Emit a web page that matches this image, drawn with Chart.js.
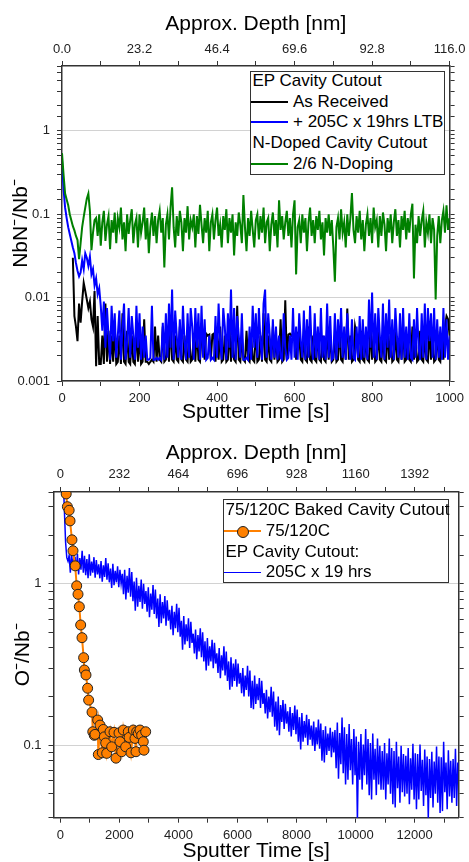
<!DOCTYPE html>
<html>
<head>
<meta charset="utf-8">
<script src="https://cdn.jsdelivr.net/npm/chart.js@4.4.1/dist/chart.umd.min.js"></script>
<style>
  body { margin: 0; background: #fff; font-family: "Liberation Sans", Arial, sans-serif; }
  #wrap { position: relative; width: 469px; height: 862px; overflow: hidden; }
  .panel { position: absolute; left: 0; width: 469px; height: 431px; }
  .legend { position: absolute; background: #fff; border: 1.5px solid #333; box-sizing: border-box; font-size: 17px; color: #000; }
  .row { position: absolute; left: 0; height: 20px; line-height: 20px; white-space: nowrap; }
  .swatch { position: absolute; top: 9px; width: 37px; height: 2px; }
  .lbl { position: absolute; left: 42px; top: 0; }
  .dot { position: absolute; left: 13px; top: -4px; width: 10px; height: 10px; border-radius: 50%; border: 1px solid #222; background: #ff8000; }
</style>
</head>
<body>
<div id="wrap">
  <div class="panel" style="top:0"><canvas id="nbnChart" width="469" height="431"></canvas></div>
  <div class="panel" style="top:431px"><canvas id="oxChart" width="469" height="431"></canvas></div>

  <div class="legend" style="left:250px; top:70.7px; width:194.5px; height:104px;">
    <div class="row" style="top:-0.5px; left:1.5px;">EP Cavity Cutout</div>
    <div class="row" style="top:20px; width:190px;"><span class="swatch" style="background:#000"></span><span class="lbl">As Received</span></div>
    <div class="row" style="top:40.3px; width:190px;"><span class="swatch" style="background:#0000ff"></span><span class="lbl">+ 205C x 19hrs LTB</span></div>
    <div class="row" style="top:61px; left:1.5px;">N-Doped Cavity Cutout</div>
    <div class="row" style="top:82px; width:190px;"><span class="swatch" style="background:#008000"></span><span class="lbl">2/6 N-Doping</span></div>
  </div>

  <div class="legend" style="left:222.7px; top:499px; width:226.6px; height:84.3px;">
    <div class="row" style="top:0.2px; left:1.8px;">75/120C Baked Cavity Cutout</div>
    <div class="row" style="top:20.5px; width:220px;"><span class="swatch" style="left:0.8px; background:#ff8000"><span class="dot"></span></span><span class="lbl">75/120C</span></div>
    <div class="row" style="top:42.2px; left:1.8px;">EP Cavity Cutout:</div>
    <div class="row" style="top:62.2px; width:220px;"><span class="swatch" style="left:0.8px; height:1px; top:9.5px; background:#0000ff"></span><span class="lbl">205C x 19 hrs</span></div>
  </div>
</div>

<script>
// ---- top panel: NbN-/Nb- vs sputter time (sampled every 4 s) ----
const nbnStep = 4;

const greenStart = 0;
const greenValues = [
  0.54,0.3,0.177,0.15,0.128,0.1,0.085,0.072,0.064,0.055,0.049,0.029,0.045,0.07,0.093,0.12,0.154,0.177,0.11,0.037,0.06,0.085,
  0.09,0.055,0.1,0.042,0.08,0.11,0.048,0.075,0.095,0.038,
  0.085,0.06,0.105,0.045,0.09,0.07,0.12,0.05,0.08,0.036,
  0.1,0.058,0.085,0.115,0.045,0.075,0.09,0.04,0.1,0.06,
  0.08,0.12,0.05,0.09,0.034,0.07,0.105,0.055,0.095,0.045,
  0.085,0.11,0.06,0.09,0.023,0.075,0.1,0.05,0.12,0.21,
  0.07,0.04,0.095,0.055,0.11,0.08,0.036,0.09,0.06,0.125,
  0.05,0.085,0.07,0.1,0.04,0.095,0.058,0.13,0.075,0.045,
  0.09,0.06,0.11,0.036,0.08,0.1,0.05,0.085,0.12,0.055,
  0.075,0.04,0.095,0.065,0.115,0.045,0.09,0.06,0.1,0.032,
  0.08,0.055,0.105,0.075,0.045,0.17,0.07,0.036,0.09,0.055,
  0.11,0.065,0.04,0.085,0.1,0.05,0.095,0.06,0.12,0.045,
  0.08,0.09,0.036,0.075,0.105,0.055,0.085,0.04,0.147,0.065,
  0.095,0.05,0.08,0.11,0.055,0.09,0.04,0.1,0.147,0.019,
  0.07,0.085,0.045,0.1,0.06,0.09,0.036,0.08,0.12,0.055,
  0.085,0.045,0.095,0.065,0.11,0.05,0.08,0.032,0.09,0.06,
  0.1,0.055,0.085,0.04,0.0155,0.07,0.09,0.05,0.115,0.06,
  0.08,0.04,0.1,0.055,0.09,0.18,0.065,0.045,0.095,0.06,
  0.11,0.05,0.085,0.036,0.075,0.1,0.055,0.09,0.045,0.12,
  0.07,0.085,0.04,0.095,0.055,0.105,0.075,0.036,0.09,0.06,
  0.1,0.045,0.08,0.115,0.055,0.085,0.04,0.095,0.065,0.11,
  0.05,0.09,0.06,0.1,0.134,0.017,0.075,0.045,0.095,0.055,
  0.085,0.11,0.04,0.08,0.06,0.1,0.045,0.09,0.065,0.0095,
  0.055,0.095,0.045,0.085,0.11,0.06,0.128,0.065,0.09
];

const blueStart = 0;
const blueValues = [
  0.45,0.2,0.12,0.09,0.07,0.058,0.048,0.04,0.034,0.026,0.021,0.018,0.02,0.028,0.022,0.034,0.03,0.024,0.031,0.019,0.022,0.014,0.017,0.011,0.013,0.008,
  0.004,0.009,0.0025,0.0075,0.0035,0.0018,0.008,0.003,0.0065,0.0019,
  0.0035,0.007,0.0018,0.0045,0.0085,0.0018,0.003,0.0075,0.0019,0.006,
  0.0035,0.0018,0.008,0.0025,0.0065,0.0018,0.0045,0.0019,0.0035,0.0018,
  0.0018,0.0019,0.008,0.0018,0.0018,0.0019,0.0018,0.0019,0.0018,0.005,
  0.0018,0.0065,0.0019,0.0085,0.0025,0.0125,0.0018,0.007,0.0035,0.0019,
  0.0055,0.0018,0.008,0.003,0.0018,0.0065,0.0019,0.0075,0.0045,0.0018,
  0.0075,0.0025,0.0065,0.0018,0.008,0.0019,0.0055,0.0018,0.0019,0.0035,
  0.0018,0.0019,0.0018,0.006,0.0019,0.0085,0.003,0.0018,0.0075,0.0045,
  0.0018,0.0065,0.0025,0.0125,0.0019,0.0075,0.0018,0.006,0.0035,0.0019,
  0.0065,0.0018,0.0018,0.0019,0.0018,0.0045,0.0018,0.008,0.0025,0.0065,
  0.0019,0.0075,0.003,0.0018,0.0085,0.0125,0.0019,0.0065,0.0035,0.0018,
  0.0055,0.0019,0.0045,0.0018,0.0035,0.0019,0.0018,0.0065,0.0025,0.0018,
  0.0019,0.0035,0.0018,0.0075,0.0019,0.0045,0.0018,0.0065,0.003,0.0019,
  0.007,0.0018,0.0055,0.0019,0.008,0.0025,0.0018,0.0065,0.0019,0.0045,
  0.0018,0.0075,0.0019,0.0035,0.0018,0.0085,0.0019,0.006,0.0018,0.0019,
  0.0065,0.0018,0.0055,0.0025,0.0075,0.0019,0.0045,0.0018,0.0065,0.003,
  0.0018,0.0055,0.0019,0.0018,0.0045,0.0019,0.006,0.0018,0.0055,0.0019,
  0.0045,0.0018,0.0095,0.0025,0.0115,0.0019,0.0065,0.0018,0.0075,0.0035,
  0.0019,0.0085,0.0018,0.0065,0.0025,0.0095,0.0019,0.0055,0.0018,0.0075,
  0.0035,0.0019,0.0065,0.0018,0.0075,0.0019,0.0045,0.0018,0.0065,0.0019,
  0.0018,0.0055,0.0019,0.0075,0.0025,0.0018,0.0065,0.0019,0.0085,0.0018,
  0.0075,0.003,0.0065,0.0019,0.0075,0.0018,0.0055,0.0019,0.0045,0.0018,
  0.0075,0.0019,0.0055,0.0018,0.0035
];

const blackStart = 28;
const blackValues = [
  0.03,0.006,0.0045,0.003,0.0085,0.005,0.009,0.015,0.012,0.0095,0.0075,0.009,0.0055,0.0045,0.012,0.0015,0.006,0.0016,
  0.0016,0.0035,0.0016,0.0085,0.0017,0.004,0.0016,0.0035,0.0017,0.0045,
  0.0016,0.0017,0.0035,0.0016,0.0065,0.0017,0.0016,0.004,0.0017,0.0016,
  0.0035,0.0017,0.0016,0.0045,0.0017,0.0035,0.0016,0.0017,0.0055,0.0017,
  0.0017,0.0016,0.0017,0.0018,0.0017,0.0045,0.0017,0.0035,0.0018,0.0017,
  0.0045,0.0017,0.0018,0.0035,0.0017,0.0055,0.0018,0.0017,0.0035,0.0018,
  0.0017,0.0045,0.0018,0.0017,0.0035,0.0018,0.0017,0.004,0.0017,0.0018,
  0.0035,0.0017,0.0045,0.0018,0.0017,0.0035,0.0037,0.0018,0.0037,0.0035,
  0.0036,0.0018,0.0036,0.0037,0.0017,0.0035,0.0018,0.0045,0.0017,0.0018,
  0.0035,0.0017,0.0018,0.0045,0.0017,0.0035,0.0018,0.0017,0.008,0.0018,
  0.0017,0.0035,0.0018,0.0017,0.004,0.0018,0.0017,0.0035,0.0018,0.0017,
  0.0045,0.0017,0.0018,0.0035,0.0017,0.0065,0.0018,0.0017,0.0035,0.0018,
  0.0017,0.0045,0.0018,0.0035,0.0017,0.0018,0.0055,0.0017,0.0018,0.0093,
  0.0018,0.0036,0.0037,0.0035,0.0037,0.0036,0.0018,0.0037,0.0035,0.0018,
  0.0017,0.0035,0.0018,0.0017,0.0045,0.0018,0.0017,0.0035,0.0018,0.0017,
  0.004,0.0018,0.0017,0.0035,0.0018,0.0017,0.0045,0.0018,0.0035,0.0017,
  0.0018,0.0035,0.0017,0.0018,0.0045,0.0018,0.0017,0.0035,0.0018,0.0074,
  0.0018,0.0035,0.0017,0.0018,0.0045,0.0035,0.0018,0.0017,0.004,0.0018,
  0.0017,0.0035,0.0018,0.0017,0.0045,0.0018,0.0035,0.0017,0.0018,0.004,
  0.0018,0.0017,0.0035,0.0018,0.0017,0.0045,0.0018,0.0035,0.0017,0.0018,
  0.004,0.0018,0.0017,0.0035,0.0018,0.0045,0.0017,0.0018,0.0035,0.0018,
  0.0017,0.0045,0.0018,0.0035,0.0017,0.0018,0.004,0.0018,0.0017,0.0035,
  0.0018,0.0017,0.0045,0.0018,0.0035,0.0017,0.0018,0.004,0.0018,0.0017,
  0.0035,0.0018,0.0045,0.006,0.0055,0.0035
];

// ---- bottom panel: O-/Nb- vs sputter time ----
const orangeTime = [200,240,300,330,395,430,505,555,600,645,690,735,790,815,870,925,960,1075,1100,1150,1175,1266,1287,1344,1422,1456,1490,1537,1571,1683,1740,1818,1886,1988,2021,2079,2133,2214,2302,2330,2394,2472,2529,2563,2587,2641,2699,2756,2810,2834,2891];
const orangeValues = [3.6,3.0,2.85,2.45,1.87,1.6,1.29,0.97,0.86,0.72,0.555,0.463,0.348,0.292,0.272,0.225,0.19,0.16,0.121,0.115,0.1165,0.143,0.0874,0.133,0.0896,0.125,0.1125,0.103,0.0889,0.121,0.0976,0.12,0.083,0.119,0.105,0.091,0.124,0.0976,0.121,0.1116,0.0896,0.124,0.11,0.091,0.121,0.118,0.124,0.115,0.105,0.093,0.121];

// EP cutout after 205C x 19 hrs, sampled every 40 s from t = 100 s
const epStart = 100;
const epStep = 40;
const epValues = [
  4.5,2.8,1.8,1.45,1.38,1.5,1.17,1.56,1.25,1.47,
  1.46,1.2,1.53,1.14,1.44,1.22,1.6,1.17,1.49,1.13,
  1.42,1.08,1.52,1.12,1.37,1.17,1.46,1.09,1.4,1.14,
  1.32,1.08,1.38,1.03,1.3,1.1,1.44,1.06,1.34,1.02,
  1.24,0.94,1.33,0.98,1.2,1.02,1.28,0.95,1.22,1.0,
  1.15,0.86,1.22,0.8,1.12,0.88,1.25,0.83,1.18,0.78,
  1.03,0.68,1.09,0.72,0.97,0.77,1.06,0.7,1.0,0.75,
  0.9,0.67,0.95,0.62,0.87,0.69,0.98,0.65,0.92,0.61,
  0.81,0.54,0.86,0.57,0.77,0.61,0.84,0.55,0.79,0.59,
  0.69,0.52,0.73,0.48,0.67,0.53,0.75,0.5,0.71,0.47,
  0.59,0.39,0.63,0.42,0.56,0.44,0.61,0.4,0.58,0.43,
  0.49,0.37,0.52,0.34,0.48,0.38,0.53,0.35,0.5,0.33,
  0.44,0.29,0.46,0.31,0.41,0.33,0.45,0.3,0.43,0.32,
  0.37,0.28,0.4,0.26,0.36,0.29,0.41,0.27,0.38,0.25,
  0.33,0.22,0.35,0.23,0.32,0.25,0.34,0.23,0.32,0.24,
  0.28,0.21,0.3,0.2,0.27,0.22,0.31,0.2,0.29,0.17,
  0.25,0.167,0.27,0.18,0.24,0.19,0.26,0.17,0.25,0.18,
  0.21,0.157,0.22,0.146,0.2,0.16,0.23,0.15,0.215,0.13,
  0.186,0.123,0.2,0.115,0.177,0.139,0.19,0.126,0.18,0.136,
  0.162,0.121,0.172,0.113,0.158,0.124,0.176,0.117,0.166,0.105,
  0.149,0.094,0.158,0.105,0.141,0.111,0.154,0.1,0.145,0.108,
  0.132,0.099,0.14,0.092,0.129,0.101,0.144,0.095,0.136,0.08,
  0.124,0.078,0.131,0.087,0.118,0.092,0.128,0.084,0.121,0.09,
  0.124,0.072,0.138,0.062,0.119,0.076,0.148,0.067,0.129,0.057,
  0.117,0.061,0.135,0.07,0.109,0.057,0.126,0.065,0.113,0.034,
  0.105,0.061,0.117,0.053,0.101,0.065,0.126,0.057,0.109,0.049,
  0.103,0.046,0.118,0.061,0.095,0.049,0.11,0.057,0.099,0.053,
  0.092,0.053,0.103,0.046,0.089,0.057,0.11,0.05,0.096,0.043,
  0.092,0.041,0.105,0.054,0.085,0.044,0.099,0.051,0.088,0.048,
  0.086,0.05,0.096,0.043,0.083,0.053,0.102,0.046,0.089,0.04,
  0.088,0.046,0.101,0.052,0.081,0.042,0.094,0.049,0.085,0.035,
  0.082,0.047,0.091,0.041,0.079,0.05,0.098,0.044,0.085,0.038,
  0.084,0.039,0.105,0.051,0.078,0.04,0.093,0.048,0.08,0.044,
  0.082,0.047,0.095,0.042,0.078
];

const nmPerSecond = 0.116;

Chart.defaults.font.family = '"Liberation Sans", Arial, sans-serif';
Chart.defaults.color = '#222';

const series = (start, step, values) => values.map((v, i) => ({ x: start + i * step, y: v }));
const isDecade = v => Math.abs(Math.log10(v) - Math.round(Math.log10(v))) < 1e-6;
const frame = { color: '#333', width: 1.5 };
const tickFont = { size: 13 };
const titleFont = { size: 21, lineHeight: 1 };

function logAxis(side, min, max, width, title, titlePad) {
  return {
    type: 'logarithmic', position: side, min: min, max: max,
    afterFit: s => { s.width = width; },
    ticks: {
      autoSkip: false, padding: 7, font: tickFont,
      callback: v => (side === 'left' && isDecade(v)) ? String(Number(v.toPrecision(1))) : ''
    },
    grid: {
      drawOnChartArea: side === 'left', tickLength: 5, tickColor: '#333',
      color: c => (c.tick && isDecade(c.tick.value)) ? '#d2d2d2' : 'rgba(0,0,0,0)'
    },
    border: frame,
    title: { display: !!title, text: title, font: titleFont, color: '#000', padding: { top: titlePad } }
  };
}

// ticks every `step` (labels on every other one), built here so Chart.js keeps them on round values
function linAxis(side, min, max, step, height, label, title, titlePad, labelPad) {
  return {
    type: 'linear', position: side, min: min, max: max,
    afterFit: s => { s.height = height; },
    afterBuildTicks: axis => {
      const ticks = [];
      for (let k = Math.ceil(min / step - 1e-9); k * step <= max + 1e-9; k++) {
        ticks.push({ value: Math.round(k * step * 1000) / 1000 });
      }
      axis.ticks = ticks;
    },
    ticks: { autoSkip: false, maxRotation: 0, padding: labelPad, font: tickFont, callback: label },
    grid: { drawOnChartArea: false, tickLength: 5, tickColor: '#333' },
    border: frame,
    title: {
      display: true, text: title, font: titleFont, color: '#000',
      padding: side === 'top' ? { top: titlePad } : { top: 0, bottom: titlePad }
    }
  };
}

const commonOpts = {
  responsive: false, animation: false, devicePixelRatio: 1,
  plugins: { legend: { display: false }, tooltip: { enabled: false } },
  layout: { padding: 0 }
};

new Chart(document.getElementById('nbnChart'), {
  type: 'line',
  data: {
    datasets: [
      { label: 'As Received', data: series(blackStart, nbnStep, blackValues), borderColor: '#000', borderWidth: 2, pointRadius: 0, order: 3 },
      { label: '+ 205C x 19hrs LTB', data: series(blueStart, nbnStep, blueValues), borderColor: '#0000ff', borderWidth: 2, pointRadius: 0, order: 2 },
      { label: '2/6 N-Doping', data: series(greenStart, nbnStep, greenValues), borderColor: '#008000', borderWidth: 2, pointRadius: 0, order: 1 }
    ]
  },
  options: Object.assign({}, commonOpts, {
    scales: {
      x: linAxis('bottom', 0, 1000, 100, 50, v => v % 200 === 0 ? v : '', 'Sputter Time [s]', 8.5, 4.5),
      xTop: linAxis('top', 0, 1000 * nmPerSecond, 11.6, 66,
        v => Math.round(v / 11.6) % 2 === 0 ? v.toFixed(1) : '', 'Approx. Depth [nm]', 13.5, 3.6),
      y: logAxis('left', 0.001, 6, 62, 'NbN⁻/Nb⁻', 11),
      y2: logAxis('right', 0.001, 6, 16, '', 0)
    }
  })
});

new Chart(document.getElementById('oxChart'), {
  type: 'line',
  data: {
    datasets: [
      {
        label: '75/120C', data: orangeTime.map((t, i) => ({ x: t, y: orangeValues[i] })),
        borderColor: '#ff8000', borderWidth: 2, pointRadius: 5, pointBackgroundColor: '#ff8000',
        pointBorderColor: '#222', pointBorderWidth: 1, order: 1
      },
      { label: '205C x 19 hrs', data: series(epStart, epStep, epValues), borderColor: '#0000ff', borderWidth: 1.5, pointRadius: 0, order: 2 }
    ]
  },
  options: Object.assign({}, commonOpts, {
    scales: {
      x: linAxis('bottom', -230, 13490, 1000, 44.3, v => v % 2000 === 0 ? v : '', 'Sputter Time [s]', 0, 4.5),
      xTop: linAxis('top', -230 * nmPerSecond, 13490 * nmPerSecond, 116, 61,
        v => Math.round(v / 116) % 2 === 0 ? String(Math.round(v)) : '', 'Approx. Depth [nm]', 11.8, 4.6),
      y: logAxis('left', 0.0355, 3.7, 53.5, 'O⁻/Nb⁻', 12.8),
      y2: logAxis('right', 0.0355, 3.7, 10.3, '', 0)
    }
  })
});
</script>
</body>
</html>
